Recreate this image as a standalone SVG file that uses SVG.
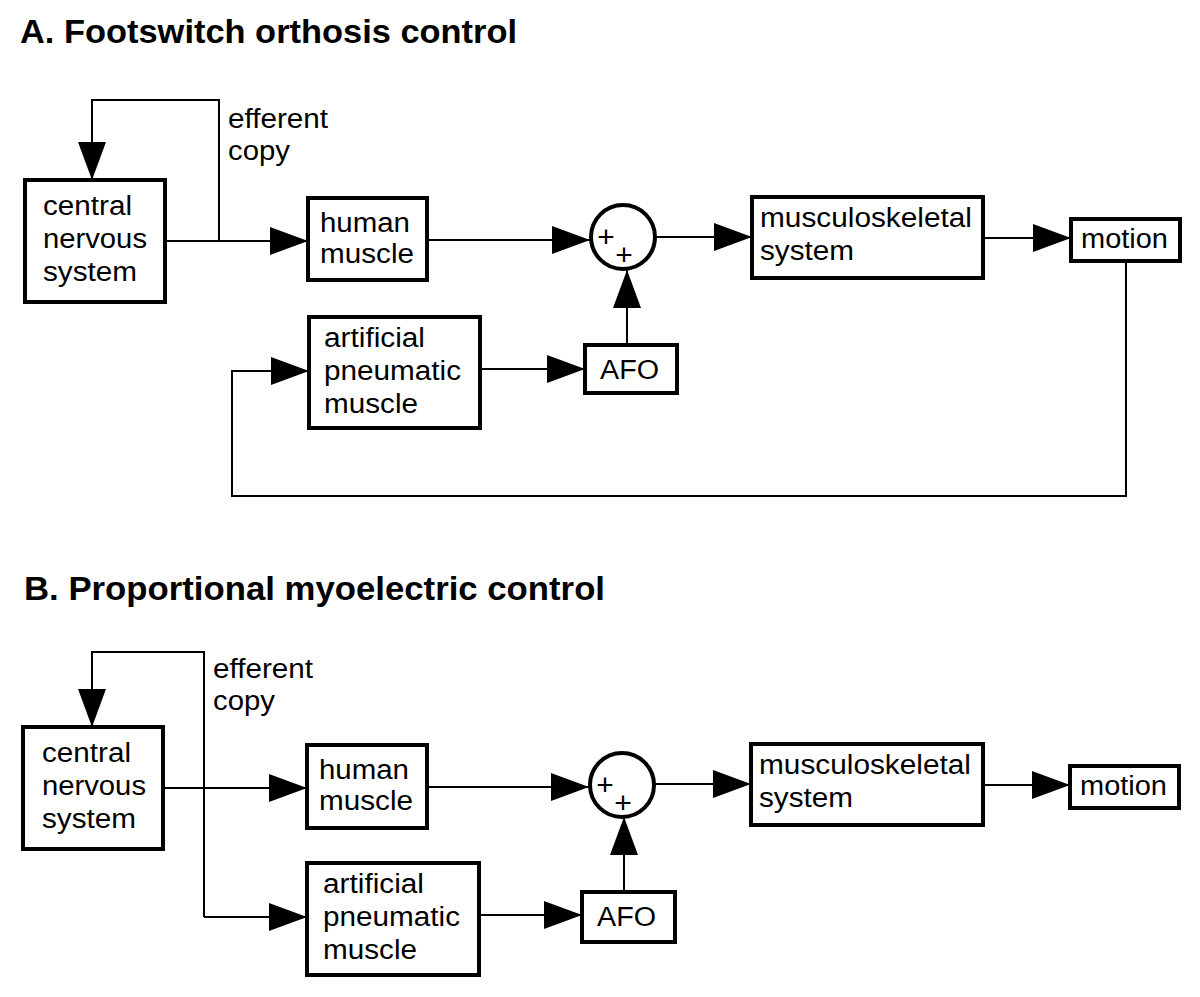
<svg xmlns="http://www.w3.org/2000/svg" width="1200" height="997" viewBox="0 0 1200 997">
<style>
  .box { fill: #fff; stroke: #000; stroke-width: 4; }
  .sum { fill: #fff; stroke: #000; stroke-width: 4; }
  .ln { fill: none; stroke: #000; stroke-width: 2; }
  .t { font-family: "Liberation Sans", Arial, sans-serif; font-size: 27px; fill: #000; }
  .pl { font-family: "Liberation Sans", Arial, sans-serif; font-size: 30px; fill: #000; text-anchor: middle; }
  .ttl { font-family: "Liberation Sans", Arial, sans-serif; font-size: 34px; font-weight: bold; fill: #000; }
</style>
<defs>
  <marker id="ah" viewBox="0 0 38 28" refX="38" refY="14" markerWidth="38" markerHeight="28" markerUnits="userSpaceOnUse" orient="auto">
    <path d="M0,0 L38,14 L0,28 Z" fill="#000"/>
  </marker>
</defs>
<rect width="1200" height="997" fill="#fff"/>

<!-- ===== Panel A ===== -->
<text class="ttl" x="20" y="43" textLength="497" lengthAdjust="spacingAndGlyphs">A. Footswitch orthosis control</text>

<g id="connectors-A">
  <path class="ln" d="M219,241 L219,100 L92,100 L92,180" marker-end="url(#ah)"/>
  <path class="ln" d="M165,241 L308,241" marker-end="url(#ah)"/>
  <path class="ln" d="M427,240 L590,240" marker-end="url(#ah)"/>
  <path class="ln" d="M655,237 L752,237" marker-end="url(#ah)"/>
  <path class="ln" d="M983,238 L1071,238" marker-end="url(#ah)"/>
  <path class="ln" d="M480,369 L585,369" marker-end="url(#ah)"/>
  <path class="ln" d="M627,345 L627,270" marker-end="url(#ah)"/>
  <path class="ln" d="M1126,261 L1126,496 L232,496 L232,371 L309,371" marker-end="url(#ah)"/>
  <text class="t" x="228" y="128" textLength="100" lengthAdjust="spacingAndGlyphs">efferent</text>
  <text class="t" x="228" y="160" textLength="62" lengthAdjust="spacingAndGlyphs">copy</text>
</g>

<g id="A-cns">
  <rect class="box" x="25" y="180" width="140" height="122"/>
  <text class="t" x="43" y="215" textLength="89" lengthAdjust="spacingAndGlyphs">central</text>
  <text class="t" x="43" y="248" textLength="104" lengthAdjust="spacingAndGlyphs">nervous</text>
  <text class="t" x="43" y="281" textLength="94" lengthAdjust="spacingAndGlyphs">system</text>
</g>
<g id="A-human-muscle">
  <rect class="box" x="308" y="198" width="119" height="82"/>
  <text class="t" x="320" y="232" textLength="90" lengthAdjust="spacingAndGlyphs">human</text>
  <text class="t" x="320" y="263" textLength="94" lengthAdjust="spacingAndGlyphs">muscle</text>
</g>
<g id="A-sum">
  <circle class="sum" cx="623" cy="237" r="32"/>
  <text class="pl" x="606" y="247">+</text>
  <text class="pl" x="624" y="265">+</text>
</g>
<g id="A-musculoskeletal">
  <rect class="box" x="752" y="197" width="231" height="81"/>
  <text class="t" x="760" y="227" textLength="212" lengthAdjust="spacingAndGlyphs">musculoskeletal</text>
  <text class="t" x="760" y="260" textLength="94" lengthAdjust="spacingAndGlyphs">system</text>
</g>
<g id="A-motion">
  <rect class="box" x="1071" y="219" width="109" height="42"/>
  <text class="t" x="1081" y="248" textLength="87" lengthAdjust="spacingAndGlyphs">motion</text>
</g>
<g id="A-artificial">
  <rect class="box" x="309" y="317" width="171" height="111"/>
  <text class="t" x="324" y="347" textLength="101" lengthAdjust="spacingAndGlyphs">artificial</text>
  <text class="t" x="324" y="380" textLength="137" lengthAdjust="spacingAndGlyphs">pneumatic</text>
  <text class="t" x="324" y="413" textLength="94" lengthAdjust="spacingAndGlyphs">muscle</text>
</g>
<g id="A-afo">
  <rect class="box" x="585" y="345" width="92" height="48"/>
  <text class="t" x="600" y="379" textLength="59" lengthAdjust="spacingAndGlyphs">AFO</text>
</g>

<!-- ===== Panel B ===== -->
<text class="ttl" x="24" y="600" textLength="581" lengthAdjust="spacingAndGlyphs">B. Proportional myoelectric  control</text>

<g id="connectors-B">
  <path class="ln" d="M204,917 L204,652 L92,652 L92,727" marker-end="url(#ah)"/>
  <path class="ln" d="M204,917 L307,917" marker-end="url(#ah)"/>
  <path class="ln" d="M163,788 L307,788" marker-end="url(#ah)"/>
  <path class="ln" d="M427,787 L589,787" marker-end="url(#ah)"/>
  <path class="ln" d="M654,784 L751,784" marker-end="url(#ah)"/>
  <path class="ln" d="M983,785 L1070,785" marker-end="url(#ah)"/>
  <path class="ln" d="M479,915 L582,915" marker-end="url(#ah)"/>
  <path class="ln" d="M624,892 L624,817" marker-end="url(#ah)"/>
  <text class="t" x="213" y="678" textLength="100" lengthAdjust="spacingAndGlyphs">efferent</text>
  <text class="t" x="213" y="710" textLength="62" lengthAdjust="spacingAndGlyphs">copy</text>
</g>

<g id="B-cns">
  <rect class="box" x="23" y="727" width="140" height="122"/>
  <text class="t" x="42" y="762" textLength="89" lengthAdjust="spacingAndGlyphs">central</text>
  <text class="t" x="42" y="795" textLength="104" lengthAdjust="spacingAndGlyphs">nervous</text>
  <text class="t" x="42" y="828" textLength="94" lengthAdjust="spacingAndGlyphs">system</text>
</g>
<g id="B-human-muscle">
  <rect class="box" x="307" y="745" width="120" height="83"/>
  <text class="t" x="319" y="779" textLength="90" lengthAdjust="spacingAndGlyphs">human</text>
  <text class="t" x="319" y="810" textLength="94" lengthAdjust="spacingAndGlyphs">muscle</text>
</g>
<g id="B-sum">
  <circle class="sum" cx="622" cy="785" r="32"/>
  <text class="pl" x="605" y="795">+</text>
  <text class="pl" x="623" y="813">+</text>
</g>
<g id="B-musculoskeletal">
  <rect class="box" x="751" y="744" width="232" height="81"/>
  <text class="t" x="759" y="774" textLength="212" lengthAdjust="spacingAndGlyphs">musculoskeletal</text>
  <text class="t" x="759" y="807" textLength="94" lengthAdjust="spacingAndGlyphs">system</text>
</g>
<g id="B-motion">
  <rect class="box" x="1070" y="766" width="109" height="42"/>
  <text class="t" x="1080" y="795" textLength="87" lengthAdjust="spacingAndGlyphs">motion</text>
</g>
<g id="B-artificial">
  <rect class="box" x="307" y="863" width="172" height="112"/>
  <text class="t" x="323" y="893" textLength="101" lengthAdjust="spacingAndGlyphs">artificial</text>
  <text class="t" x="323" y="926" textLength="137" lengthAdjust="spacingAndGlyphs">pneumatic</text>
  <text class="t" x="323" y="959" textLength="94" lengthAdjust="spacingAndGlyphs">muscle</text>
</g>
<g id="B-afo">
  <rect class="box" x="582" y="892" width="93" height="50"/>
  <text class="t" x="597" y="926" textLength="59" lengthAdjust="spacingAndGlyphs">AFO</text>
</g>
</svg>
